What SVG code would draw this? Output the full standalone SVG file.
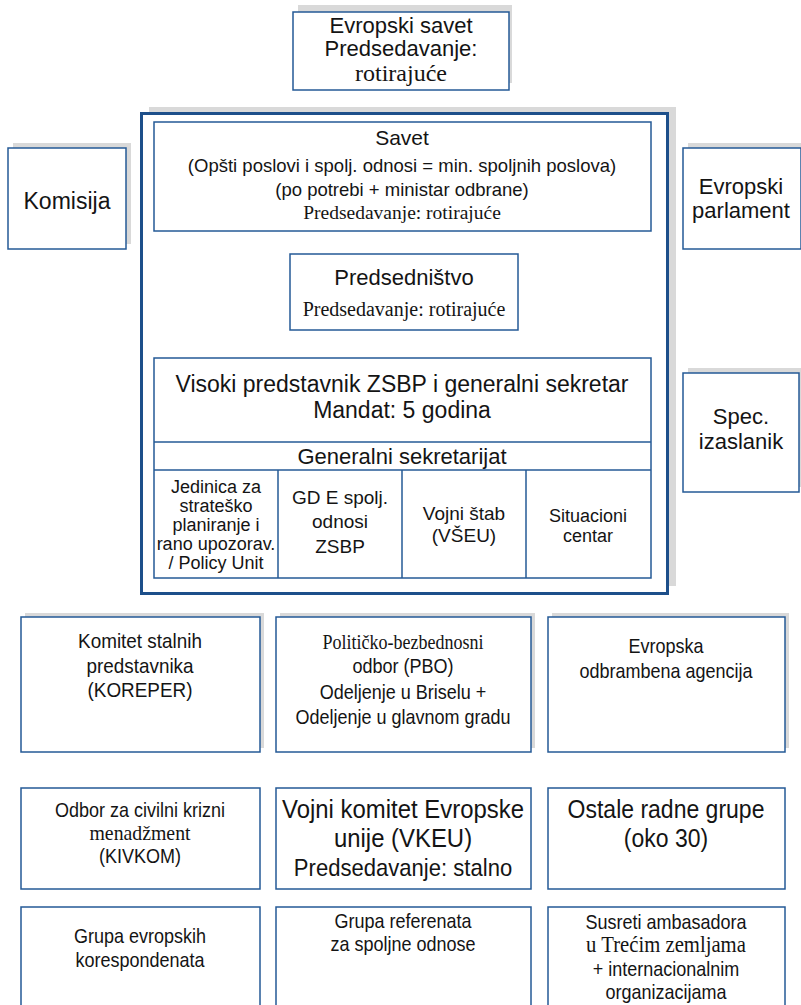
<svg xmlns="http://www.w3.org/2000/svg" width="801" height="1005" viewBox="0 0 801 1005">
<style>
.sh{fill:#d9d9d9}
.bx{fill:#fff;stroke:#245a96;stroke-width:1.5}
.ln{stroke:#245a96;stroke-width:1.5;fill:none}
text{font-family:"Liberation Sans",Arial,sans-serif;fill:#141414;text-anchor:middle}
.sf{font-family:"Liberation Serif","Times New Roman",serif}
.s23{font-size:23px}
.s22{font-size:22px}
.s21{font-size:21px}
.s20{font-size:20px}
.s19{font-size:19px}
.s18{font-size:18px}
.s185{font-size:18.5px}
</style>
<rect width="801" height="1005" fill="#fff"/>

<g id="evropski-savet">
<rect class="sh" x="298" y="5" width="214" height="78"/>
<rect class="bx" x="293" y="12" width="216" height="78"/>
<text class="s22" x="401" y="33">Evropski savet</text>
<text class="s22" x="401" y="56">Predsedavanje:</text>
<text class="sf" style="font-size:24px" x="401" y="81">rotirajuće</text>
</g>

<g id="komisija">
<rect class="sh" x="13" y="143" width="118" height="101"/>
<rect class="bx" x="8" y="148" width="118" height="101"/>
<text class="s23" x="67" y="209">Komisija</text>
</g>

<g id="evropski-parlament">
<rect class="sh" x="688" y="143" width="118" height="101"/>
<rect class="bx" x="683" y="148" width="118" height="101"/>
<text class="s22" x="741" y="194">Evropski</text>
<text class="s22" x="741" y="218">parlament</text>
</g>

<g id="spec-izaslanik">
<rect class="sh" x="688" y="368" width="118" height="119"/>
<rect class="bx" x="683" y="373" width="116" height="119"/>
<text class="s22" x="741" y="424">Spec.</text>
<text class="s22" x="741" y="449">izaslanik</text>
</g>

<g id="glavni-okvir">
<rect class="sh" x="149" y="107" width="527" height="479"/>
<rect x="141.5" y="113.5" width="526" height="480" fill="#fff" stroke="#1d4f8a" stroke-width="3"/>
</g>

<g id="savet">
<rect class="bx" x="154" y="122" width="497" height="109"/>
<text class="s21" x="402" y="145">Savet</text>
<text class="s185" x="402" y="172">(Opšti poslovi i spolj. odnosi = min. spoljnih poslova)</text>
<text class="s185" x="402" y="196">(po potrebi + ministar odbrane)</text>
<text class="sf" style="font-size:19.5px" x="402" y="219">Predsedavanje: rotirajuće</text>
</g>

<g id="predsednistvo">
<rect class="bx" x="290" y="254" width="228" height="76"/>
<text class="s22" x="404" y="285">Predsedništvo</text>
<text class="sf s20" x="404" y="316">Predsedavanje: rotirajuće</text>
</g>

<g id="visoki-predstavnik">
<rect class="bx" x="154" y="358" width="497" height="220"/>
<text class="s23" x="402" y="392">Visoki predstavnik ZSBP i generalni sekretar</text>
<text class="s23" x="402" y="418">Mandat: 5 godina</text>
<line class="ln" x1="154" y1="442" x2="651" y2="442"/>
<text class="s22" x="402" y="464">Generalni sekretarijat</text>
<line class="ln" x1="154" y1="470" x2="651" y2="470"/>
<line class="ln" x1="278" y1="470" x2="278" y2="578"/>
<line class="ln" x1="402" y1="470" x2="402" y2="578"/>
<line class="ln" x1="526" y1="470" x2="526" y2="578"/>
</g>

<g id="jedinica">
<text class="s18" x="216" y="493">Jedinica za</text>
<text class="s18" x="216" y="512">strateško</text>
<text class="s18" x="216" y="531">planiranje i</text>
<text class="s18" x="216" y="550">rano upozorav.</text>
<text class="s18" x="216" y="569">/ Policy Unit</text>
</g>
<g id="gde">
<text class="s19" x="340" y="504">GD E spolj.</text>
<text class="s19" x="340" y="528">odnosi</text>
<text class="s19" x="340" y="553">ZSBP</text>
</g>
<g id="vojni-stab">
<text class="s19" x="464" y="520">Vojni štab</text>
<text class="s19" x="464" y="542">(VŠEU)</text>
</g>
<g id="situacioni">
<text class="s18" x="588" y="522">Situacioni</text>
<text class="s18" x="588" y="542">centar</text>
</g>

<g id="koreper">
<rect class="sh" x="25" y="613" width="239" height="135"/>
<rect class="bx" x="21" y="617" width="239" height="135"/>
<g transform="translate(140 0) scale(0.9 1)"><text class="s21" x="0" y="648">Komitet stalnih</text><text class="s21" x="0" y="673">predstavnika</text><text class="s21" x="0" y="697">(KOREPER)</text></g>
</g>

<g id="pbo">
<rect class="sh" x="280" y="613" width="255" height="135"/>
<rect class="bx" x="276" y="617" width="255" height="135"/>
<g transform="translate(403 0) scale(0.9 1)"><text class="s20 sf" x="0" y="649">Političko-bezbednosni</text><text class="s20" x="0" y="673">odbor (PBO)</text><text class="s20" x="0" y="699">Odeljenje u Briselu +</text><text class="s20" x="0" y="724">Odeljenje u glavnom gradu</text></g>
</g>

<g id="eda">
<rect class="sh" x="552" y="613" width="237" height="135"/>
<rect class="bx" x="548" y="617" width="237" height="135"/>
<g transform="translate(666 0) scale(0.9 1)"><text class="s20" x="0" y="653">Evropska</text><text class="s20" x="0" y="678">odbrambena agencija</text></g>
</g>

<g id="kivkom">
<rect class="bx" x="21" y="788" width="239" height="101"/>
<g transform="translate(140 0) scale(0.9 1)"><text class="s20" x="0" y="817">Odbor za civilni krizni</text><text class="sf" style="font-size:22px" x="0" y="840">menadžment</text><text class="s20" x="0" y="863">(KIVKOM)</text></g>
</g>

<g id="vkeu">
<rect class="bx" x="276" y="788" width="255" height="101"/>
<g transform="translate(403 0) scale(0.92 1)"><text x="0" y="818" style="font-size:26px">Vojni komitet Evropske</text><text x="0" y="847" style="font-size:26px">unije (VKEU)</text><text x="0" y="876" style="font-size:24px">Predsedavanje: stalno</text></g>
</g>

<g id="ostale">
<rect class="bx" x="548" y="788" width="237" height="101"/>
<g transform="translate(666 0) scale(0.92 1)"><text x="0" y="818" style="font-size:25px">Ostale radne grupe</text><text x="0" y="847" style="font-size:25px">(oko 30)</text></g>
</g>

<g id="korespondenti">
<rect class="bx" x="21" y="907" width="239" height="110"/>
<g transform="translate(140 0) scale(0.9 1)"><text class="s20" x="0" y="943">Grupa evropskih</text><text class="s20" x="0" y="967">korespondenata</text></g>
</g>

<g id="referenti">
<rect class="bx" x="276" y="907" width="255" height="110"/>
<g transform="translate(403 0) scale(0.9 1)"><text class="s20" x="0" y="928">Grupa referenata</text><text class="s20" x="0" y="951">za spoljne odnose</text></g>
</g>

<g id="ambasadori">
<rect class="bx" x="548" y="907" width="237" height="110"/>
<g transform="translate(666 0) scale(0.9 1)"><text class="s20" x="0" y="929">Susreti ambasadora</text><text class="sf" style="font-size:23px" x="0" y="952">u Trećim zemljama</text><text class="s20" x="0" y="976">+ internacionalnim</text><text class="s20" x="0" y="999">organizacijama</text></g>
</g>

<g id="konektori"></g>
</svg>
